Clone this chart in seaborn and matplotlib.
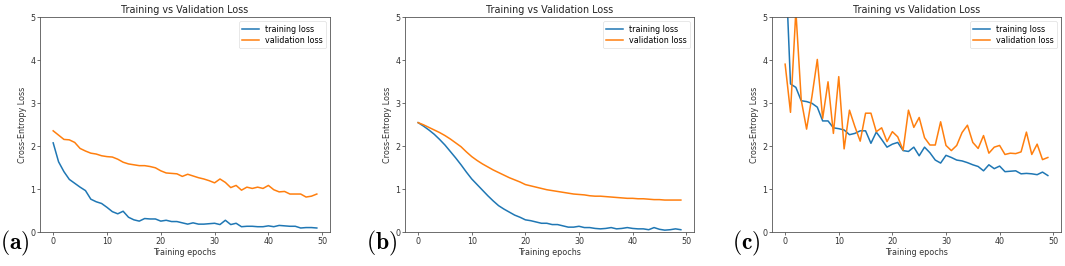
import numpy as np
import pandas as pd
import matplotlib
matplotlib.use("Agg")
import matplotlib.pyplot as plt
import seaborn as sns

epochs = list(range(50))

train_a = [2.08, 1.64, 1.41, 1.23, 1.14, 1.05, 0.97, 0.77, 0.71, 0.67,
           0.58, 0.48, 0.43, 0.49, 0.35, 0.29, 0.26, 0.32, 0.31, 0.31,
           0.26, 0.28, 0.25, 0.25, 0.22, 0.19, 0.22, 0.19, 0.19, 0.20,
           0.21, 0.18, 0.28, 0.18, 0.21, 0.13, 0.14, 0.14, 0.13, 0.13,
           0.15, 0.13, 0.16, 0.15, 0.14, 0.14, 0.10, 0.11, 0.11, 0.10]
val_a = [2.36, 2.26, 2.16, 2.15, 2.09, 1.95, 1.89, 1.84, 1.82, 1.78,
         1.76, 1.75, 1.70, 1.63, 1.59, 1.57, 1.55, 1.55, 1.53, 1.50,
         1.43, 1.38, 1.37, 1.36, 1.30, 1.35, 1.31, 1.27, 1.24, 1.20,
         1.15, 1.24, 1.16, 1.04, 1.09, 0.98, 1.05, 1.02, 1.05, 1.02,
         1.09, 0.99, 0.94, 0.95, 0.89, 0.89, 0.89, 0.82, 0.84, 0.89]

train_b = [2.55, 2.47, 2.38, 2.28, 2.16, 2.03, 1.88, 1.73, 1.57, 1.40,
           1.24, 1.11, 0.98, 0.85, 0.73, 0.62, 0.54, 0.47, 0.40, 0.35,
           0.29, 0.27, 0.24, 0.21, 0.21, 0.18, 0.18, 0.15, 0.12, 0.12,
           0.14, 0.11, 0.11, 0.09, 0.08, 0.09, 0.11, 0.08, 0.09, 0.11,
           0.09, 0.08, 0.08, 0.06, 0.11, 0.07, 0.05, 0.06, 0.08, 0.06]
val_b = [2.55, 2.50, 2.44, 2.38, 2.32, 2.25, 2.17, 2.08, 1.99, 1.87,
         1.76, 1.67, 1.59, 1.52, 1.45, 1.39, 1.33, 1.27, 1.22, 1.17,
         1.11, 1.08, 1.05, 1.02, 0.99, 0.97, 0.95, 0.93, 0.91, 0.89,
         0.88, 0.87, 0.85, 0.84, 0.84, 0.83, 0.82, 0.81, 0.80, 0.79,
         0.79, 0.78, 0.78, 0.77, 0.76, 0.76, 0.75, 0.75, 0.75, 0.75]

train_c = [6.50, 3.45, 3.37, 3.06, 3.04, 3.00, 2.91, 2.59, 2.59, 2.43,
           2.41, 2.38, 2.27, 2.30, 2.36, 2.36, 2.07, 2.33, 2.16, 1.98,
           2.05, 2.09, 1.90, 1.88, 1.98, 1.78, 1.98, 1.85, 1.68, 1.61,
           1.79, 1.74, 1.68, 1.66, 1.62, 1.57, 1.53, 1.43, 1.57, 1.48,
           1.54, 1.41, 1.42, 1.43, 1.36, 1.37, 1.36, 1.34, 1.40, 1.32]
val_c = [3.91, 2.79, 5.15, 3.08, 2.40, 3.16, 4.02, 2.65, 3.50, 2.30,
         3.62, 1.94, 2.84, 2.46, 2.12, 2.77, 2.77, 2.34, 2.43, 2.11,
         2.34, 2.22, 1.91, 2.84, 2.44, 2.67, 2.20, 2.03, 2.03, 2.57,
         2.02, 1.90, 2.02, 2.32, 2.49, 2.09, 1.95, 2.25, 1.84, 1.98,
         2.02, 1.81, 1.84, 1.83, 1.87, 2.33, 1.81, 2.05, 1.69, 1.74]

panel_labels = ["(a)", "(b)", "(c)"]
series_names = ["training loss", "validation loss"]
title = "Training vs Validation Loss"
xlabel = "Training epochs"
ylabel = "Cross-Entropy Loss"

plt.rcParams["mathtext.fontset"] = "cm"
plt.rcParams["font.family"] = ["DejaVu Sans"]

W, H = 1065, 266
fig = plt.figure(figsize=(W / 100, H / 100), dpi=100)

lefts = [40, 405, 772]
rights = [330, 694, 1061]
top_px, bot_px = 17.3, 232.3
label_x = [0, 366, 732]

datasets = [(train_a, val_a), (train_b, val_b), (train_c, val_c)]
palette = {"training loss": "#1f77b4", "validation loss": "#ff7f0e"}
edge = "#555555"

for i, (tr, va) in enumerate(datasets):
    ax = fig.add_axes([lefts[i] / W, 1 - bot_px / H,
                       (rights[i] - lefts[i]) / W, (bot_px - top_px) / H])
    df = pd.DataFrame({
        "epoch": epochs + epochs,
        "loss": tr + va,
        "series": [series_names[0]] * 50 + [series_names[1]] * 50,
    })
    sns.lineplot(data=df, x="epoch", y="loss", hue="series", palette=palette,
                 linewidth=1.1, ax=ax, legend=True)
    ax.set_ylim(0, 5)
    ax.set_xlim(-2.45, 51.45)
    ax.set_xticks([0, 10, 20, 30, 40, 50])
    ax.set_yticks([0, 1, 2, 3, 4, 5])
    ax.tick_params(labelsize=5.8, length=2, width=0.5, pad=1.5, colors="#333333")
    ax.set_title(title, fontsize=6.9, pad=3, color="#222222")
    ax.set_xlabel(xlabel, fontsize=5.8, labelpad=1.5, color="#333333")
    ax.set_ylabel(ylabel, fontsize=5.8, labelpad=2, color="#333333")
    for s in ax.spines.values():
        s.set_linewidth(0.6)
        s.set_color(edge)
    leg = ax.legend(loc="upper right", fontsize=5.8, frameon=True,
                    handlelength=2.0, borderpad=0.4, labelspacing=0.3)
    leg.get_frame().set_linewidth(0.4)
    fig.text(label_x[i] / W, 1 - 249 / H, r"$\mathbf{" + panel_labels[i] + "}$",
             fontsize=17, ha="left", va="baseline")

fig.savefig("out.png", dpi=100)
